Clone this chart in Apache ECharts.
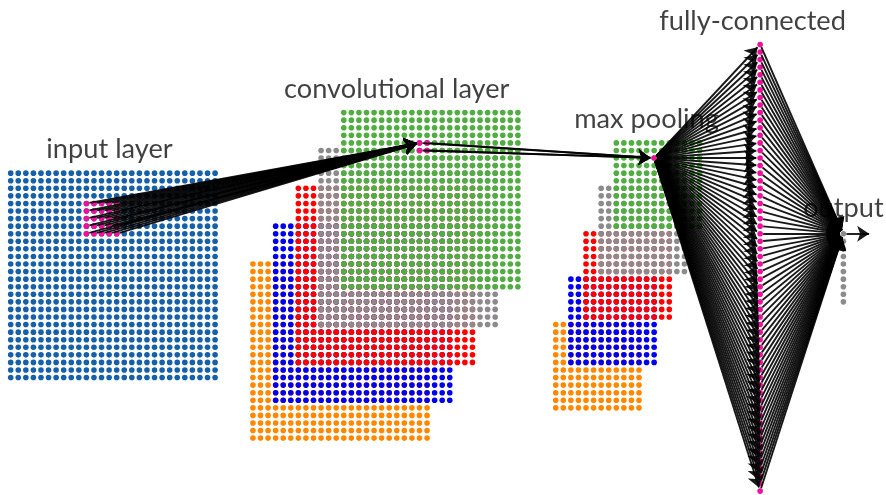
<!DOCTYPE html>
<html>
<head>
<meta charset="utf-8">
<style>html,body{margin:0;padding:0;background:#fff}#chart{width:886px;height:495px}</style>
<script src="https://cdn.jsdelivr.net/npm/echarts@6/dist/echarts.min.js"></script>
</head>
<body>
<div id="chart"></div>
<script>
// All values are in lattice units (one unit = the gap between neighbouring neurons).
const layerNames = ['input','convOrange','convBlue','convRed','convGray','convGreen','poolOrange','poolBlue','poolRed','poolGray','poolGreen','fully','output'];
const layerColumn = [0, 32, 35, 38, 41, 44, 72, 74, 76, 78, 80, 99, 110];
const layerRow    = [8, 20, 15, 10, 5, 0, 28, 22, 16, 10, 4, -9, 16];
const layerWidth  = [28, 24, 24, 24, 24, 24, 12, 12, 12, 12, 12, 1, 1];
const layerHeight = [28, 24, 24, 24, 24, 24, 12, 12, 12, 12, 12, 60, 10];
const layerColor  = ['#1560a8','#ff8800','#0000f0','#ff0000','#8c8a8c','#4fae3f','#ff8800','#0000f0','#ff0000','#8c8a8c','#4fae3f','#f00f9a','#8c8a8c'];

const inputHighlightColumns = [10, 11, 12, 13, 14];
const inputHighlightRows = [12, 13, 14, 15, 16];
const convHighlightColumns = [54, 55];
const convHighlightRows = [4, 5];
const poolHighlight = [85, 6];
const outputArrowTip = 113.4;

const labelText = ['input layer', 'convolutional layer', 'max pooling', 'fully-connected', 'output'];
const labelColumn = [13.05, 51, 84, 98, 110];
const labelRow = [4.9, -3.1, 0.9, -12.1, 12.6];

const magenta = '#f00f9a';
const step = 7.57, originX = 10.7, originY = 112.6, W = 886, H = 495;

function latticeSeries(i) {
  const pts = [];
  for (let r = 0; r < layerHeight[i]; r++)
    for (let c = 0; c < layerWidth[i]; c++)
      pts.push([layerColumn[i] + c, layerRow[i] + r]);
  return {
    name: layerNames[i], type: 'scatter', data: pts, symbolSize: 5.6, silent: true,
    itemStyle: { color: layerColor[i], opacity: 1 }, z: 2 + i
  };
}

function shorten(a, b, s0, s1) {
  const dx = b[0] - a[0], dy = b[1] - a[1], d = Math.hypot(dx, dy);
  return [[a[0] + dx / d * s0, a[1] + dy / d * s0], [b[0] - dx / d * s1, b[1] - dy / d * s1]];
}

const inputNodes = [], convNodes = [];
inputHighlightRows.forEach(r => inputHighlightColumns.forEach(c => inputNodes.push([c, r])));
convHighlightRows.forEach(r => convHighlightColumns.forEach(c => convNodes.push([c, r])));
const fullyNodes = [];
for (let r = 0; r < 60; r++) fullyNodes.push([99, -9 + r]);
const outputTop = [110, 16];

const links = [];
inputNodes.forEach(n => links.push({ coords: shorten(n, convNodes[0], 0.4, 0.4) }));
convNodes.forEach(n => links.push({ coords: shorten(n, poolHighlight, 0.4, 0.5) }));
fullyNodes.forEach(n => links.push({ coords: shorten(poolHighlight, n, 0.4, 0.5) }));
fullyNodes.forEach(n => links.push({ coords: shorten(n, outputTop, 0.4, 0.5) }));
links.push({ coords: [[110.4, 16], [outputArrowTip, 16]] });

const series = layerNames.map((_, i) => latticeSeries(i));
series.push({
  name: 'highlight', type: 'scatter', symbolSize: 5.6, silent: true, z: 20,
  itemStyle: { color: magenta, opacity: 1 },
  data: inputNodes.concat(convNodes, [poolHighlight])
});
series.push({
  name: 'labels', type: 'scatter', symbolSize: 0, silent: true, z: 21,
  data: labelText.map((t, i) => ({ name: t, value: [labelColumn[i], labelRow[i]] })),
  label: {
    show: true, position: 'inside', formatter: p => p.name, color: '#111',
    fontFamily: 'Lato', fontSize: 27.2, fontWeight: 400
  }
});
series.push({
  name: 'links', type: 'lines', coordinateSystem: 'cartesian2d', silent: true, z: 30,
  symbol: ['none', 'arrow'], symbolSize: 12,
  lineStyle: { color: '#000', width: 1.9, opacity: 0.9, curveness: 0 },
  data: links
});

const chart = echarts.init(document.getElementById('chart'), null, { renderer: 'canvas' });
chart.setOption({
  animation: false,
  backgroundColor: '#fff',
  grid: { left: 0, right: 0, top: 0, bottom: 0, containLabel: false },
  xAxis: { type: 'value', show: false, min: -originX / step, max: (W - originX) / step },
  yAxis: { type: 'value', show: false, inverse: true, min: -originY / step, max: (H - originY) / step },
  series: series
});
</script>
</body>
</html>
